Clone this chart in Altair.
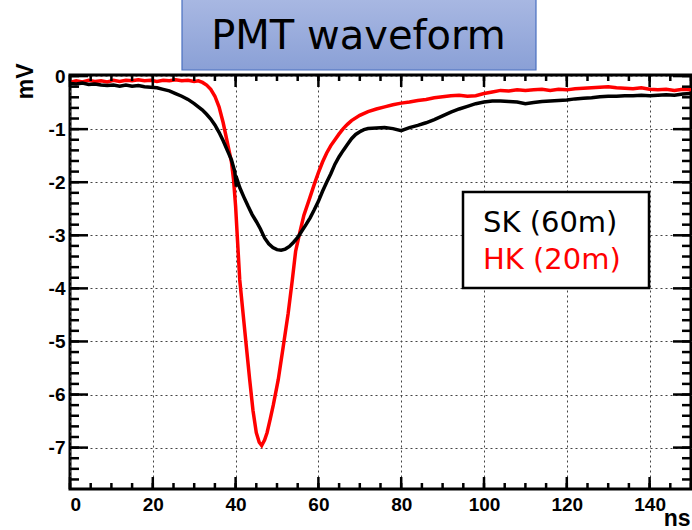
import altair as alt
import pandas as pd

# ---- data ----
sk_t = [0, 1.5, 3, 4.5, 6, 7.5, 9, 10.5, 12, 13.5, 15, 16.5, 18, 19.5, 21, 22.5, 24, 25.5, 27, 28.5,
        30, 31, 32, 33, 34, 35, 36, 37, 38, 39, 39.8, 40.2, 40.5, 41, 42, 43, 44, 45, 46, 47, 48, 49,
        50, 51, 52, 53, 54, 55, 56, 57, 58, 59, 60, 61, 62, 63, 64, 65, 66, 67, 68, 69, 70, 71, 72,
        74, 76, 78, 80, 82, 84, 86, 88, 90, 92, 94, 96, 98, 100, 102, 104, 106, 108, 110, 112, 114,
        116, 118, 120, 122, 124, 126, 128, 130, 132, 134, 136, 138, 140, 142, 144, 146, 148, 150]
sk_v = [-0.14, -0.15, -0.13, -0.16, -0.15, -0.17, -0.18, -0.17, -0.19, -0.17, -0.19, -0.18, -0.20,
        -0.21, -0.22, -0.25, -0.28, -0.33, -0.38, -0.44, -0.52, -0.58, -0.64, -0.72, -0.81, -0.92,
        -1.06, -1.22, -1.40, -1.58, -1.80, -2.08, -1.98, -2.10, -2.28, -2.45, -2.61, -2.74, -2.88,
        -3.05, -3.16, -3.23, -3.27, -3.28, -3.26, -3.21, -3.13, -3.04, -2.92, -2.80, -2.67, -2.52,
        -2.36, -2.17, -2.00, -1.84, -1.66, -1.52, -1.40, -1.29, -1.18, -1.10, -1.05, -1.01, -0.99,
        -0.98, -0.97, -0.99, -1.03, -0.97, -0.93, -0.88, -0.82, -0.75, -0.68, -0.62, -0.57, -0.52,
        -0.49, -0.47, -0.47, -0.48, -0.49, -0.52, -0.50, -0.48, -0.47, -0.46, -0.45, -0.43, -0.42,
        -0.41, -0.39, -0.38, -0.38, -0.37, -0.37, -0.36, -0.37, -0.36, -0.35, -0.36, -0.34, -0.33]

hk_t = [0, 1.5, 3, 4.5, 6, 7.5, 9, 10.5, 12, 13.5, 15, 16.5, 18, 19.5, 21, 22.5, 24, 25.5, 27, 28.5,
        30, 31, 32, 33, 34, 35, 36, 37, 38, 39, 39.5, 40, 40.5, 41, 41.8, 42.6, 43.4, 44.2, 45, 45.7,
        46.3, 47, 47.6, 48.4, 49.1, 50.3, 51.5, 52.7, 53.7, 54.5, 55.5, 56.5, 57.9, 59, 60, 61, 62,
        63, 64, 65, 66, 67, 68, 70, 72, 74, 76, 78, 80, 82, 84, 86, 88, 90, 92, 94, 96, 98, 100, 102,
        104, 106, 108, 110, 112, 114, 116, 118, 120, 122, 124, 126, 128, 130, 132, 134, 136, 138,
        140, 142, 144, 146, 148, 150]
hk_v = [-0.12, -0.09, -0.11, -0.08, -0.10, -0.09, -0.11, -0.08, -0.10, -0.08, -0.09, -0.07, -0.09,
        -0.08, -0.10, -0.08, -0.09, -0.07, -0.09, -0.08, -0.10, -0.09, -0.12, -0.17, -0.25, -0.38,
        -0.58, -0.88, -1.25, -1.62, -1.95, -2.45, -3.15, -3.84, -4.47, -5.10, -5.72, -6.30, -6.72,
        -6.90, -6.96, -6.86, -6.72, -6.45, -6.20, -5.72, -5.10, -4.47, -3.84, -3.30, -2.95, -2.62,
        -2.30, -2.04, -1.82, -1.62, -1.45, -1.31, -1.20, -1.09, -0.99, -0.91, -0.84, -0.74, -0.67,
        -0.62, -0.58, -0.54, -0.51, -0.49, -0.46, -0.44, -0.41, -0.39, -0.37, -0.36, -0.38, -0.37,
        -0.33, -0.30, -0.27, -0.28, -0.26, -0.27, -0.26, -0.25, -0.27, -0.25, -0.26, -0.24, -0.23,
        -0.22, -0.21, -0.20, -0.22, -0.23, -0.24, -0.22, -0.25, -0.26, -0.25, -0.27, -0.25, -0.26]

x_major = [0, 20, 40, 60, 80, 100, 120, 140]
y_major = [0, -1, -2, -3, -4, -5, -6, -7]
x_minor = [0, 5, 10, 15, 20, 25, 30, 35, 40, 45, 50, 55, 60, 65, 70, 75, 80, 85, 90, 95, 100,
           105, 110, 115, 120, 125, 130, 135, 140, 145, 150]
y_minor = [0, -0.2, -0.4, -0.6, -0.8, -1, -1.2, -1.4, -1.6, -1.8, -2, -2.2, -2.4, -2.6, -2.8,
           -3, -3.2, -3.4, -3.6, -3.8, -4, -4.2, -4.4, -4.6, -4.8, -5, -5.2, -5.4, -5.6, -5.8,
           -6, -6.2, -6.4, -6.6, -6.8, -7, -7.2, -7.4, -7.6]
title_text = ["PMT waveform"]
legend_sk = ["SK (60m)"]
legend_hk = ["HK (20m)"]

W, H = 621, 414
xs = alt.Scale(domain=[0, 150], nice=False, zero=False)
ys = alt.Scale(domain=[-7.78, 0.02], nice=False, zero=False)

sk_df = pd.DataFrame({"t": sk_t, "v": sk_v})
hk_df = pd.DataFrame({"t": hk_t, "v": hk_v})

LBL = dict(labelFont="Liberation Sans", labelFontWeight="bold", labelFontSize=19,
           labelColor="black", ticks=False, domain=False, grid=True,
           gridColor="#444444", gridDash=[2, 3], gridWidth=1,
           titleFont="Liberation Sans", titleFontWeight="bold", titleFontSize=23,
           titleColor="black")

x_axis = alt.Axis(values=x_major, labelPadding=6, title="ns", titleX=620, titleY=36,
                  titleAlign="right", titleBaseline="alphabetic", titleAngle=0, **LBL)
y_axis = alt.Axis(values=y_major, labelPadding=5,
                  labelExpr="datum.value == 0 ? '0' : '-' + abs(datum.value)",
                  title="mV", titleX=-38, titleY=-12, titleAngle=270,
                  titleAlign="right", titleBaseline="alphabetic", **LBL)

X = lambda f: alt.X(f, scale=xs, axis=x_axis)
Y = lambda f: alt.Y(f, scale=ys, axis=y_axis)

# legend box (drawn over grid)
leg_box = alt.Chart(pd.DataFrame({"k": [0]})).mark_rect(
    fill="white", stroke="black", strokeWidth=2.5
).encode(x=alt.value(393), x2=alt.value(579), y=alt.value(117), y2=alt.value(213))

hk_line = alt.Chart(hk_df).mark_line(color="#ff0000", strokeWidth=3.5, clip=True).encode(
    x=X("t:Q"), y=Y("v:Q"),
)
sk_line = alt.Chart(sk_df).mark_line(color="black", strokeWidth=3.5, clip=True).encode(
    x=X("t:Q"), y=Y("v:Q"),
)

def yticks(vals, length):
    src = alt.Chart(pd.DataFrame({"v": vals})).mark_rule(color="black", strokeWidth=2.5)
    left = src.encode(y=Y("v:Q"), x=alt.value(0), x2=alt.value(length))
    right = src.encode(y=Y("v:Q"), x=alt.value(W - length), x2=alt.value(W))
    return [left, right]

def xticks(vals, length):
    src = alt.Chart(pd.DataFrame({"t": vals})).mark_rule(color="black", strokeWidth=2.5)
    bottom = src.encode(x=X("t:Q"), y=alt.value(H), y2=alt.value(H - length))
    top = src.encode(x=X("t:Q"), y=alt.value(0), y2=alt.value(length))
    return [bottom, top]

ticks = yticks(y_major, 18) + yticks(y_minor, 9) + xticks(x_major, 12) + xticks(x_minor, 6)

gradient = alt.LinearGradient(
    gradient="linear",
    stops=[alt.GradientStop(color="#aab9e3", offset=0), alt.GradientStop(color="#8aa0d6", offset=1)],
    x1=0, x2=0, y1=0, y2=1,
)
title_box = alt.Chart(pd.DataFrame({"k": [0]})).mark_rect(
    fill=gradient, stroke="#4a70c0", strokeWidth=1.2
).encode(x=alt.value(112), x2=alt.value(466), y=alt.value(-80), y2=alt.value(-5))

title_txt = alt.Chart(pd.DataFrame({"label": title_text})).mark_text(
    font="DejaVu Sans", fontSize=40, color="black", align="center", baseline="alphabetic"
).encode(text="label:N", x=alt.value(288.5), y=alt.value(-26))

sk_txt = alt.Chart(pd.DataFrame({"label": legend_sk})).mark_text(
    font="DejaVu Sans", fontSize=29, color="black", align="left", baseline="alphabetic"
).encode(text="label:N", x=alt.value(413), y=alt.value(157))
hk_txt = alt.Chart(pd.DataFrame({"label": legend_hk})).mark_text(
    font="DejaVu Sans", fontSize=29, color="#ff0000", align="left", baseline="alphabetic"
).encode(text="label:N", x=alt.value(413), y=alt.value(194))

chart = alt.layer(
    hk_line, leg_box, sk_line, *ticks, title_box, title_txt, sk_txt, hk_txt
).properties(
    width=W, height=H,
    autosize=alt.AutoSizeParams(type="none"),
    padding={"left": 70, "top": 75, "right": 1, "bottom": 41},
    background="white",
).configure_view(
    stroke="black", strokeWidth=3
)

chart.save("out.html", embed_options={"renderer": "svg", "actions": False})
